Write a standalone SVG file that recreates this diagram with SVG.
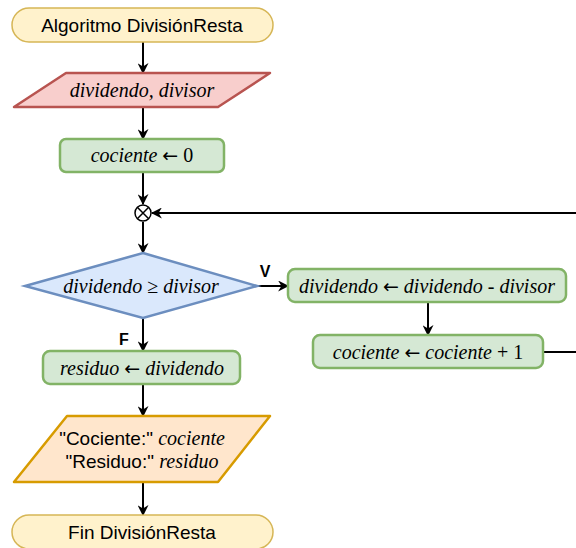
<svg xmlns="http://www.w3.org/2000/svg" width="576" height="548" viewBox="0 0 576 548">
<style>
.term{fill:#fff2cc;stroke:#d6b656;stroke-width:1.5}
.proc{fill:#d5e8d4;stroke:#82b366;stroke-width:2.5}
.inp{fill:#f8cecc;stroke:#b85450;stroke-width:2.5;stroke-linejoin:round}
.out{fill:#ffe6cc;stroke:#d79b00;stroke-width:2.5;stroke-linejoin:round}
.dec{fill:#dae8fc;stroke:#6c8ebf;stroke-width:2.5}
.sans{font-family:"Liberation Sans",Arial,sans-serif;font-size:19px;fill:#000}
.ser{font-family:"Liberation Serif","Times New Roman",serif;font-size:20px;fill:#000}
.it{font-style:italic}
.ar{font-family:"DejaVu Sans",sans-serif;font-size:19px;font-style:normal}
.lbl{font-family:"Liberation Sans",Arial,sans-serif;font-size:16px;font-weight:bold;fill:#000}
.edge{fill:none;stroke:#000;stroke-width:2}
</style>
<defs>
<marker id="arr" viewBox="0 0 10 10" refX="9" refY="5" markerWidth="11" markerHeight="11" orient="auto" markerUnits="userSpaceOnUse">
<path d="M0,0 L10,5 L0,10 L3,5 z" fill="#000"/>
</marker>
</defs>
<g id="connectors">
<line class="edge" x1="143" y1="42" x2="143" y2="73" marker-end="url(#arr)"/>
<line class="edge" x1="143" y1="107" x2="143" y2="139" marker-end="url(#arr)"/>
<line class="edge" x1="143" y1="172" x2="143" y2="204" marker-end="url(#arr)"/>
<line class="edge" x1="143" y1="222" x2="143" y2="253" marker-end="url(#arr)"/>
<line class="edge" x1="257" y1="286" x2="288" y2="286" marker-end="url(#arr)"/>
<line class="edge" x1="143" y1="318" x2="143" y2="351" marker-end="url(#arr)"/>
<line class="edge" x1="428" y1="302" x2="428" y2="335" marker-end="url(#arr)"/>
<path class="edge" d="M543,352 L590,352 L590,213 L152,213" marker-end="url(#arr)"/>
<line class="edge" x1="143" y1="384" x2="143" y2="416" marker-end="url(#arr)"/>
<line class="edge" x1="143" y1="482" x2="143" y2="515" marker-end="url(#arr)"/>
<text class="lbl" x="265" y="277" text-anchor="middle">V</text>
<text class="lbl" x="124" y="345" text-anchor="middle">F</text>
</g>
<g id="start">
<rect class="term" x="12" y="8" width="261" height="34" rx="17"/>
<text class="sans" x="142" y="32" text-anchor="middle">Algoritmo DivisiónResta</text>
</g>
<g id="input">
<path class="inp" d="M66,73 L270,73 L218,107 L14,107 Z"/>
<text class="ser it" x="142" y="97" text-anchor="middle">dividendo, divisor</text>
</g>
<g id="init">
<rect class="proc" x="60" y="139" width="164" height="33" rx="6"/>
<text class="ser" x="142" y="162" text-anchor="middle"><tspan class="it">cociente</tspan> <tspan class="ar">←</tspan> 0</text>
</g>
<g id="merge">
<circle cx="143" cy="213" r="8" fill="#fff" stroke="#000" stroke-width="1.5"/>
<path d="M137.3,207.3 L148.7,218.7 M148.7,207.3 L137.3,218.7" stroke="#000" stroke-width="1.5"/>
</g>
<g id="decision">
<path class="dec" d="M143,253 L257,286 L143,318 L25,286 Z"/>
<text class="ser" x="141" y="293" text-anchor="middle"><tspan class="it">dividendo</tspan> ≥ <tspan class="it">divisor</tspan></text>
</g>
<g id="sub">
<rect class="proc" x="288" y="269" width="278" height="33" rx="7"/>
<text class="ser" x="427" y="293" text-anchor="middle"><tspan class="it">dividendo</tspan> <tspan class="ar">←</tspan> <tspan class="it">dividendo</tspan> - <tspan class="it">divisor</tspan></text>
</g>
<g id="inc">
<rect class="proc" x="313" y="335" width="230" height="33" rx="7"/>
<text class="ser" x="428" y="359" text-anchor="middle"><tspan class="it">cociente</tspan> <tspan class="ar">←</tspan> <tspan class="it">cociente</tspan> + 1</text>
</g>
<g id="residuo">
<rect class="proc" x="43" y="351" width="197" height="33" rx="7"/>
<text class="ser" x="142" y="375" text-anchor="middle"><tspan class="it">residuo</tspan> <tspan class="ar">←</tspan> <tspan class="it">dividendo</tspan></text>
</g>
<g id="output">
<path class="out" d="M67,416 L270,416 L218,482 L14,482 Z"/>
<text x="142" y="445" text-anchor="middle"><tspan class="sans">"Cociente:" </tspan><tspan class="ser it">cociente</tspan></text>
<text x="142" y="468" text-anchor="middle"><tspan class="sans">"Residuo:" </tspan><tspan class="ser it">residuo</tspan></text>
</g>
<g id="end">
<rect class="term" x="12" y="515" width="261" height="34" rx="17"/>
<text class="sans" x="142" y="539" text-anchor="middle">Fin DivisiónResta</text>
</g>
</svg>
